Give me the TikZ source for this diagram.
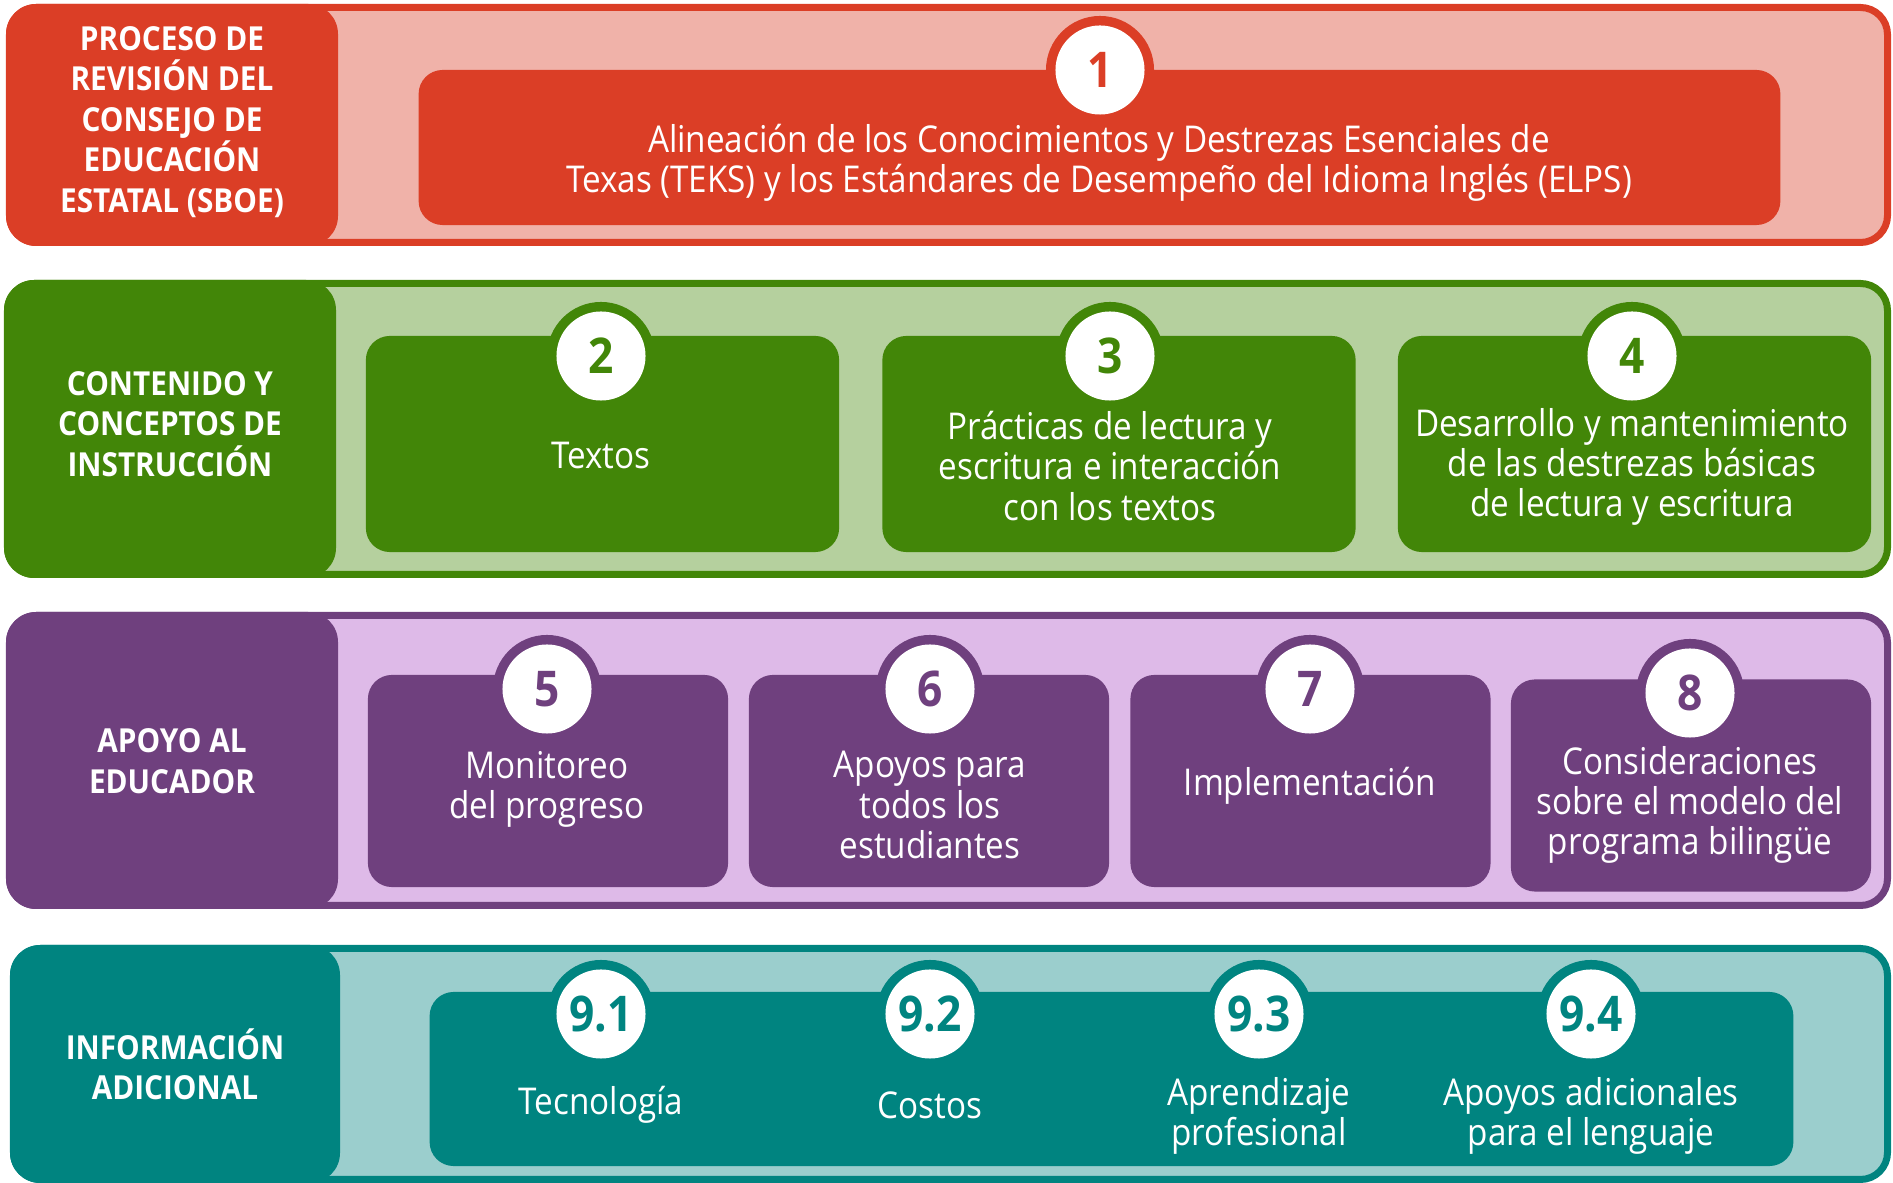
\documentclass[tikz,border=0pt]{standalone}
\usepackage{fontspec}
\setmainfont{Open Sans}[FakeStretch=0.9]
\usetikzlibrary{positioning}

\definecolor{redD}{RGB}{219,62,38}
\definecolor{redL}{RGB}{240,178,169}
\definecolor{greenD}{RGB}{66,134,8}
\definecolor{greenL}{RGB}{181,208,158}
\definecolor{purpleD}{RGB}{111,64,126}
\definecolor{purpleL}{RGB}{222,186,232}
\definecolor{tealD}{RGB}{0,132,128}
\definecolor{tealL}{RGB}{155,206,205}

\tikzset{
  band/.style={draw=#1D, fill=#1L, line width=0.07cm, rounded corners=0.27cm},
  headbox/.style={fill=#1D, rounded corners=0.3cm},
  headtext/.style={text=white, align=center, font=\bfseries\fontsize{9.4}{11.5}\selectfont},
  itembox/.style={fill=#1D, rounded corners=0.24cm, inner sep=0pt},
  itemtext/.style={text=white, align=center, font=\fontsize{10.5}{11.4}\selectfont},
  ring/.style={circle, fill=#1D, minimum size=1.08cm, inner sep=0pt},
  numdisc/.style={circle, fill=white, text=#1D, minimum size=0.89cm, inner sep=0pt,
    font=\bfseries\fontsize{14}{16}\selectfont},
}

\begin{document}
\begin{tikzpicture}[x=0.01cm, y=-0.01cm]
  \useasboundingbox (0,0) rectangle (1893,1183);

  % Band 1: SBOE
  \draw[band=red] (9.5,7.5) rectangle (1887.5,242.5);
  \fill[headbox=red] (6,4) rectangle (338,246);
  \node[headtext] (head1) at (172,122) {PROCESO DE\\REVISIÓN DEL\\CONSEJO DE\\EDUCACIÓN\\ESTATAL (SBOE)};
  \node[itembox=red, minimum width=13.61cm, minimum height=1.55cm] (box1) at (1099.5,147.5) {};
  \node[ring=red] (ring1) at (1100,70) {};
  \node[numdisc=red] (num1) at (ring1) {1};
  \node[itemtext] (txt1) at (1099,163) {Alineación de los Conocimientos y Destrezas Esenciales de\\Texas (TEKS) y los Estándares de Desempeño del Idioma Inglés (ELPS)};

  % Band 2: contenido
  \draw[band=green] (7.5,283.5) rectangle (1887.5,574.5);
  \fill[headbox=green] (4,280) rectangle (336,578);
  \node[headtext] (head2) at (170,424) {CONTENIDO Y\\CONCEPTOS DE\\INSTRUCCIÓN};
  \foreach \i/\bx/\cx/\ty/\t in {2/602.5/601/456/Textos,
      3/1119/1110/466/{Prácticas de lectura y\\escritura e interacción\\con los textos},
      4/1634.5/1632/467/{Desarrollo y mantenimiento\\de las destrezas básicas\\de lectura y escritura}} {
    \node[itembox=green, minimum width=4.73cm, minimum height=2.16cm] (box\i) at (\bx,444) {};
    \node[ring=green] (ring\i) at (\cx,356) {};
    \node[numdisc=green] (num\i) at (ring\i) {\i};
    \node[itemtext] (txt\i) at (\cx,\ty) {\t};
  }

  % Band 3: apoyo al educador
  \draw[band=purple] (9.5,615.5) rectangle (1887.5,905.5);
  \fill[headbox=purple] (6,612) rectangle (338,909);
  \node[headtext] (head3) at (172,761) {APOYO AL\\EDUCADOR};
  \foreach \i/\bx/\by/\cx/\cy/\ty/\t in {5/548/781/547/689/789/{Monitoreo\\del progreso},
      6/929/781/930/689/805/{Apoyos para\\todos los\\estudiantes},
      7/1310.5/781/1310/689/786/Implementación,
      8/1691/785.5/1690/693/805/{Consideraciones\\sobre el modelo del\\programa bilingüe}} {
    \node[itembox=purple, minimum width=3.6cm, minimum height=2.12cm] (box\i) at (\bx,\by) {};
    \node[ring=purple] (ring\i) at (\cx,\cy) {};
    \node[numdisc=purple] (num\i) at (ring\i) {\i};
    \node[itemtext] (txt\i) at (\cx,\ty) {\t};
  }

  % Band 4: informacion adicional
  \draw[band=teal] (13.5,948.5) rectangle (1887.5,1179.5);
  \fill[headbox=teal] (10,945) rectangle (340,1183);
  \node[headtext] (head4) at (175,1064) {INFORMACIÓN\\ADICIONAL};
  \node[itembox=teal, minimum width=13.63cm, minimum height=1.74cm] (box9) at (1111.5,1079) {};
  \foreach \i/\n/\cx/\ty/\t in {1/9.1/601/1105/Tecnología, 2/9.2/930/1105/Costos,
      3/9.3/1259/1116/{Aprendizaje\\profesional},
      4/9.4/1591/1116/{Apoyos adicionales\\para el lenguaje}} {
    \node[ring=teal] (ringn\i) at (\cx,1014) {};
    \node[numdisc=teal] (numn\i) at (ringn\i) {\n};
    \node[itemtext] (txtn\i) at (\cx,\ty) {\t};
  }
\end{tikzpicture}
\end{document}
